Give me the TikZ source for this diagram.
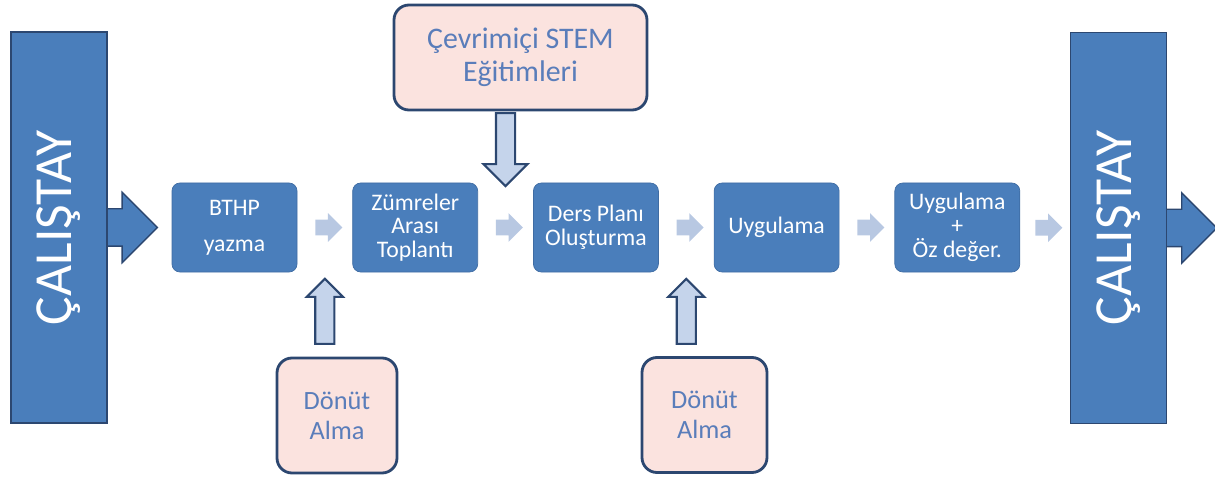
\documentclass[tikz,border=0pt]{standalone}
\usepackage{fontspec}
\setmainfont{Carlito}
\usetikzlibrary{shapes.arrows, positioning, calc, backgrounds}
\definecolor{boxblue}{HTML}{4A7EBB}
\definecolor{boxline}{HTML}{3F6CA3}
\definecolor{darkline}{HTML}{2C4770}
\definecolor{pinkfill}{HTML}{FBE3DF}
\definecolor{pinktext}{HTML}{5A7DBA}
\definecolor{paleblue}{HTML}{B8C8E2}
\definecolor{arrowfill}{HTML}{C5D4EB}

\begin{document}
\begin{tikzpicture}[node distance=1.1cm]

    % Define styles for the nodes
    \tikzstyle{bigbar} = [
        rectangle, fill=boxblue, draw=darkline, line width=0.8pt,
        minimum width=1.92cm, minimum height=7.82cm, text=white,
        font=\fontsize{30.5}{34}\selectfont
    ]
    \tikzstyle{stage} = [
        rectangle, rounded corners=0.16cm, fill=boxblue, draw=boxline,
        text=white, align=center, minimum width=2.5cm, minimum height=1.78cm,
        font=\fontsize{13.5}{13.5}\selectfont
    ]
    \tikzstyle{support} = [
        rectangle, rounded corners=0.3cm, fill=pinkfill, draw=darkline,
        line width=1.6pt, text=pinktext, align=center,
        font=\fontsize{15}{17}\selectfont
    ]
    \tikzstyle{flow} = [
        single arrow, fill=paleblue, inner xsep=0pt, inner ysep=0.15cm,
        minimum height=0.54cm, single arrow head extend=0.13cm
    ]
    \tikzstyle{feed} = [
        single arrow, fill=arrowfill, draw=darkline, line width=1.2pt,
        inner xsep=0pt, inner ysep=0.17cm, minimum height=1.3cm,
        single arrow head extend=0.17cm
    ]
    \tikzstyle{outflow} = [
        single arrow, fill=boxblue, draw=darkline, line width=0.8pt,
        inner xsep=0pt, inner ysep=0.36cm, minimum height=1.18cm,
        single arrow head extend=0.33cm
    ]

    \useasboundingbox (0,0) rectangle (24.3,9.52);

    % Nodes
    \node (calisL) [bigbar] at (1.18,4.97) {\rotatebox{90}{ÇALIŞTAY}};
    \node (bthp) [stage] at (4.69,4.97) {BTHP\\[7pt]yazma};
    \node (zumre) [stage, right=of bthp] {Zümreler\\Arası\\Toplantı};
    \node (ders) [stage, right=of zumre] {Ders Planı\\Oluşturma};
    \node (uyg) [stage, right=of ders] {Uygulama};
    \node (ozdeger) [stage, right=of uyg] {Uygulama\\+\\Öz değer.};
    \node (calisR) [bigbar] at (22.37,4.96) {\rotatebox{90}{ÇALIŞTAY}};

    \node (stem) [support, minimum width=5.06cm, minimum height=2.1cm,
        font=\fontsize{17}{19}\selectfont]
        at (10.41,8.37) {Çevrimiçi STEM\\Eğitimleri};
    \node (donut1) [support, minimum width=2.4cm, minimum height=2.3cm]
        at (6.74,1.21) {Dönüt\\Alma};
    \node (donut2) [support, minimum width=2.5cm, minimum height=2.3cm]
        at (14.09,1.22) {Dönüt\\Alma};

    % Arrows
    \begin{scope}[on background layer]
        \node [outflow, anchor=tail] at ($(calisL.east)+(-0.2,0)$) {};
        \node [outflow, anchor=tail] at ($(calisR.east)+(-0.2,0)$) {};
    \end{scope}
    \node [flow] at ($(bthp.east)!0.5!(zumre.west)$) {};
    \node [flow] at ($(zumre.east)!0.5!(ders.west)$) {};
    \node [flow] at ($(ders.east)!0.5!(uyg.west)$) {};
    \node [flow] at ($(uyg.east)!0.5!(ozdeger.west)$) {};
    \node [flow] at ($(ozdeger.east)!0.5!(calisR.west)$) {};

    \node [feed, rotate=-90, anchor=tip, minimum height=1.46cm,
        single arrow head extend=0.25cm]
        at ($(zumre.north east)!0.5!(ders.north west)+(0,-0.1)$) {};
    \node [feed, rotate=90, anchor=tip]
        at ($(bthp.south east)!0.5!(zumre.south west)+(0,-0.1)$) {};
    \node [feed, rotate=90, anchor=tip]
        at ($(ders.south east)!0.5!(uyg.south west)+(0,-0.1)$) {};

\end{tikzpicture}
\end{document}
